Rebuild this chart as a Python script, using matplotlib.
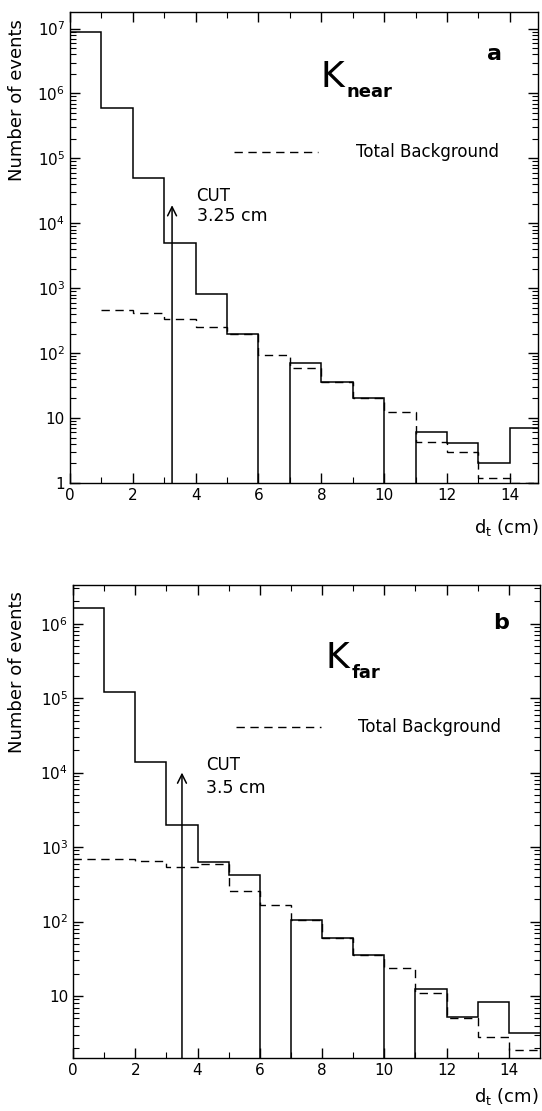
import numpy as np
import matplotlib
matplotlib.use("Agg")
import matplotlib.pyplot as plt
from matplotlib.patches import FancyArrowPatch
from matplotlib.ticker import FixedLocator, LogLocator, FuncFormatter, NullFormatter

# bin edges in d_t (cm)
edges = np.arange(0, 16)

# panel a: K_near
data_a = [9e6, 6e5, 5e4, 5e3, 810, 200, 0, 70, 36, 20, 0, 6, 4.1, 2.0, 7]
bg_a_edges = np.arange(1, 16)
bg_a = [460, 420, 340, 250, 200, 93, 58, 36, 20, 12.5, 4.2, 3.0, 1.2, 1.0]
cut_a = 3.25

# panel b: K_far
data_b = [1.6e6, 1.2e5, 1.4e4, 2.0e3, 630, 420, 0, 105, 60, 36, 0, 12.3, 5.2, 8.3, 3.2]
bg_b = [700, 690, 640, 540, 600, 256, 166, 105, 60, 36, 24, 11, 5.0, 2.8, 1.9]
cut_b = 3.5

plt.rcParams["font.family"] = ["DejaVu Sans"]

fig = plt.figure(figsize=(5.42, 11.11), dpi=100)
ax_a = fig.add_axes([0.129, 0.5653, 0.864, 0.4239])
ax_b = fig.add_axes([0.1347, 0.0477, 0.8616, 0.4257])


def ylab(v, pos):
    n = int(round(np.log10(v)))
    if n == 0:
        return "1"
    if n == 1:
        return "10"
    return r"$\mathregular{10^{%d}}$" % n


def style(ax, ylim, xmax):
    ax.set_yscale("log")
    ax.set_xlim(0, xmax)
    ax.set_ylim(*ylim)
    ax.xaxis.set_major_locator(FixedLocator(range(0, 15, 2)))
    ax.xaxis.set_minor_locator(FixedLocator(range(1, 15, 2)))
    ax.yaxis.set_major_locator(LogLocator(base=10, numticks=20))
    ax.yaxis.set_minor_locator(LogLocator(base=10, subs=np.arange(2, 10), numticks=20))
    ax.yaxis.set_major_formatter(FuncFormatter(ylab))
    ax.yaxis.set_minor_formatter(NullFormatter())
    ax.tick_params(which="both", direction="in", top=True, right=True, labelsize=11)
    ax.tick_params(which="major", length=7, width=1)
    ax.tick_params(which="minor", length=4, width=0.8)
    for s in ax.spines.values():
        s.set_linewidth(1)


def panel(ax, data, bg_edges, bg, cut, ylim, xmax, name, letter, cut_y, cut_txt, text_y, leg_y, kpos, lpos):
    style(ax, ylim, xmax)
    ax.stairs(data, edges, baseline=None, color="black", lw=1.1)
    ax.stairs(bg, bg_edges, baseline=None, color="black", lw=1.0, linestyle=(0, (6, 4)))
    ax.add_patch(FancyArrowPatch((cut, ylim[0]), (cut, cut_y), arrowstyle="->",
                                 color="black", lw=1.1, mutation_scale=16,
                                 shrinkA=0, shrinkB=0))
    ax.text(cut + 0.78, text_y[0], "CUT", fontsize=12, va="center")
    ax.text(cut + 0.78, text_y[1], cut_txt, fontsize=12.5, va="center")
    ax.text(kpos[0], kpos[1], "K", fontsize=26,
            transform=ax.transAxes, va="center")
    ax.text(kpos[0] + 0.056, kpos[1] - 0.032, name, fontsize=13, fontweight="bold",
            transform=ax.transAxes, va="center")
    ax.text(lpos[0], lpos[1], letter, fontsize=16, fontweight="bold",
            transform=ax.transAxes, va="center")
    ax.plot([0.35, 0.53], [leg_y, leg_y], color="black", lw=1.0,
            linestyle=(0, (6, 4)), transform=ax.transAxes)
    ax.text(0.61, leg_y, "Total Background", fontsize=12,
            transform=ax.transAxes, va="center")


panel(ax_a, data_a, bg_a_edges, bg_a, cut_a, (1, 1.8e7), 14.9, "near", "a",
      1.9e4, "3.25 cm", (2.6e4, 1.3e4), 0.703, (0.535, 0.862), (0.89, 0.91))
panel(ax_b, data_b, edges, bg_b, cut_b, (1.47, 3.3e6), 15.0, "far", "b",
      1.0e4, "3.5 cm", (1.25e4, 6.2e3), 0.70, (0.54, 0.845), (0.9, 0.92))

fig.text(0.031, 0.91, "Number of events", rotation=90, fontsize=13,
         ha="center", va="center")
fig.text(0.031, 0.395, "Number of events", rotation=90, fontsize=13,
         ha="center", va="center")
fig.text(0.935, 0.525, r"d$_\mathregular{t}$ (cm)", fontsize=13, ha="center", va="center")
fig.text(0.935, 0.0135, r"d$_\mathregular{t}$ (cm)", fontsize=13, ha="center", va="center")

fig.savefig("out.png", dpi=100)
